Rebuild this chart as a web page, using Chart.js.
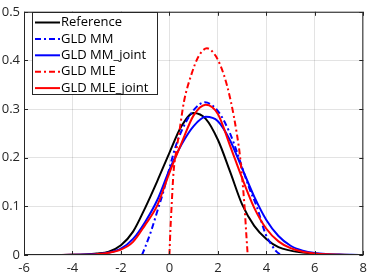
<!DOCTYPE html>
<html>
<head>
<meta charset="utf-8">
<script src="https://cdn.jsdelivr.net/npm/chart.js@4/dist/chart.umd.min.js"></script>
<style>
	html, body { margin: 0; padding: 0; background: #ffffff; }
	#pdf-chart { display: block; }
</style>
</head>
<body>
<canvas id="pdf-chart" width="372" height="274"></canvas>
<script>

	// values
	const refX = [-6,-5.5,-5,-4.5,-4,-3.5,-3,-2.5,-2,-1.5,-1,-0.5,0,0.5,1,1.5,2,2.5,3,3.5,4,4.5,5,5.5,6,6.5,7,7.5,8];
	const refY = [0,0,0,0.0002,0.0005,0.0012,0.003,0.007,0.02,0.048,0.097,0.152,0.21,0.265,0.292,0.28,0.237,0.172,0.104,0.06,0.033,0.016,0.009,0.005,0.0025,0.001,0.0005,0.0002,0];

	const mmX = [-1.13,-1,-0.75,-0.5,-0.25,0,0.25,0.5,1,1.46,2,2.5,2.8,3,3.3,3.6,3.97,4.2,4.4,4.6];
	const mmY = [0,0.016,0.05,0.09,0.13,0.178,0.222,0.255,0.298,0.314,0.296,0.25,0.21,0.18,0.137,0.1,0.043,0.022,0.008,0];

	const jointX = [-5.3,-5,-4.5,-4,-3.5,-3,-2.5,-2,-1.5,-1,-0.5,0,0.5,1,1.5,2,2.5,3,3.5,4,4.5,5,5.5,6,6.5,7,7.5,8];
	const mmJointY = [0,0,0.0001,0.0003,0.0008,0.002,0.005,0.013,0.033,0.068,0.113,0.175,0.227,0.265,0.284,0.275,0.236,0.178,0.12,0.072,0.039,0.019,0.009,0.004,0.0018,0.0008,0.0003,0.0001];

	const mleX = [0,0.04,0.09,0.17,0.27,0.4,0.6,0.9,1.2,1.55,1.9,2.25,2.53,2.78,2.92,3.1,3.17,3.23];
	const mleY = [0,0.05,0.1,0.17,0.21,0.25,0.315,0.37,0.408,0.425,0.41,0.37,0.317,0.25,0.2,0.1,0.045,0];

	const mleJointY = [0,0,0.0001,0.0003,0.0007,0.0018,0.0045,0.011,0.027,0.062,0.102,0.169,0.23,0.287,0.309,0.29,0.225,0.158,0.097,0.054,0.028,0.014,0.0065,0.003,0.0013,0.0005,0.0002,0.0001];

	const seriesNames = ['Reference', 'GLD MM', 'GLD MM_joint', 'GLD MLE', 'GLD MLE_joint'];
	const xTicks = [-6,-4,-2,0,2,4,6,8];
	const yTicks = [0,0.1,0.2,0.3,0.4,0.5];

	const axisColor = '#262626';
	const dashDot = [6,3,2,3];

	function pts(xs, ys) {
		return xs.map(function(x, i) { return { x: x, y: ys[i] }; });
	}

	function line(label, xs, ys, color, dash, order) {
		return {
			label: label,
			data: pts(xs, ys),
			borderColor: color,
			backgroundColor: color,
			borderWidth: 2,
			borderDash: dash,
			pointRadius: 0,
			cubicInterpolationMode: 'monotone',
			fill: false,
			order: order
		};
	}

	const data = {
		datasets: [
			line(seriesNames[0], refX, refY, '#000000', [], 4),
			line(seriesNames[1], mmX, mmY, '#0000ff', dashDot, 3),
			line(seriesNames[2], jointX, mmJointY, '#0000ff', [], 2),
			line(seriesNames[3], mleX, mleY, '#ff0000', dashDot, 1),
			line(seriesNames[4], jointX, mleJointY, '#ff0000', [], 0)
		]
	};

	// box round the axes, inward tick marks, legend in the upper left corner
	const matlabLook = {
		id: 'matlabLook',
		afterDraw: function(chart) {
			const ctx = chart.ctx;
			const a = chart.chartArea;
			const sx = chart.scales.x;
			const sy = chart.scales.y;
			ctx.save();
			ctx.strokeStyle = axisColor;
			ctx.lineWidth = 1;
			ctx.setLineDash([]);
			ctx.strokeRect(a.left + 0.5, a.top + 0.5, a.right - a.left - 1, a.bottom - a.top - 1);

			ctx.beginPath();
			xTicks.forEach(function(t) {
				const px = Math.round(sx.getPixelForValue(t)) + 0.5;
				ctx.moveTo(px, a.bottom); ctx.lineTo(px, a.bottom - 4);
				ctx.moveTo(px, a.top); ctx.lineTo(px, a.top + 4);
			});
			yTicks.forEach(function(t) {
				const py = Math.round(sy.getPixelForValue(t)) + 0.5;
				ctx.moveTo(a.left, py); ctx.lineTo(a.left + 4, py);
				ctx.moveTo(a.right, py); ctx.lineTo(a.right - 4, py);
			});
			ctx.stroke();

			// legend
			const bx = 32, by = 12, bw = 125, bh = 82;
			ctx.fillStyle = '#ffffff';
			ctx.fillRect(bx, by, bw, bh);
			ctx.strokeStyle = axisColor;
			ctx.strokeRect(bx + 0.5, by + 0.5, bw, bh);
			ctx.font = '13px "Open Sans"';
			ctx.textBaseline = 'middle';
			ctx.textAlign = 'left';
			chart.data.datasets.forEach(function(ds, i) {
				const y = 22.5 + i * 16.4;
				ctx.strokeStyle = ds.borderColor;
				ctx.lineWidth = 2;
				ctx.setLineDash(ds.borderDash);
				ctx.beginPath();
				ctx.moveTo(35, y);
				ctx.lineTo(60, y);
				ctx.stroke();
				ctx.fillStyle = '#000000';
				ctx.fillText(ds.label, 61, y);
			});
			ctx.restore();
		}
	};

	const config = {
		type: 'line',
		data: data,
		options: {
			responsive: false,
			animation: false,
			devicePixelRatio: 1,
			layout: {
				padding: { top: 5, right: 4, left: 0, bottom: 0 }
			},
			plugins: {
				legend: { display: false },
				tooltip: { enabled: false }
			},
			scales: {
				x: {
					type: 'linear',
					min: -6,
					max: 8,
					afterFit: function(scale) { scale.height = 19; },
					afterBuildTicks: function(scale) {
						scale.ticks = xTicks.map(function(v) { return { value: v }; });
					},
					ticks: {
						color: axisColor,
						padding: 5,
						maxRotation: 0,
						font: { family: 'Open Sans', size: 13 },
						callback: function(v) { return String(v); }
					},
					grid: {
						color: 'rgba(38,38,38,0.13)',
						drawTicks: false
					},
					border: { display: false }
				},
				y: {
					type: 'linear',
					min: 0,
					max: 0.5,
					afterFit: function(scale) { scale.width = 24; },
					afterBuildTicks: function(scale) {
						scale.ticks = yTicks.map(function(v) { return { value: v }; });
					},
					ticks: {
						color: axisColor,
						padding: 4,
						font: { family: 'Open Sans', size: 13 },
						callback: function(v) { return String(+v.toFixed(1)); }
					},
					grid: {
						color: 'rgba(38,38,38,0.13)',
						drawTicks: false
					},
					border: { display: false }
				}
			}
		},
		plugins: [matlabLook]
	};

	const myChart = new Chart(
		document.getElementById('pdf-chart'),
		config
	);

</script>
</body>
</html>
